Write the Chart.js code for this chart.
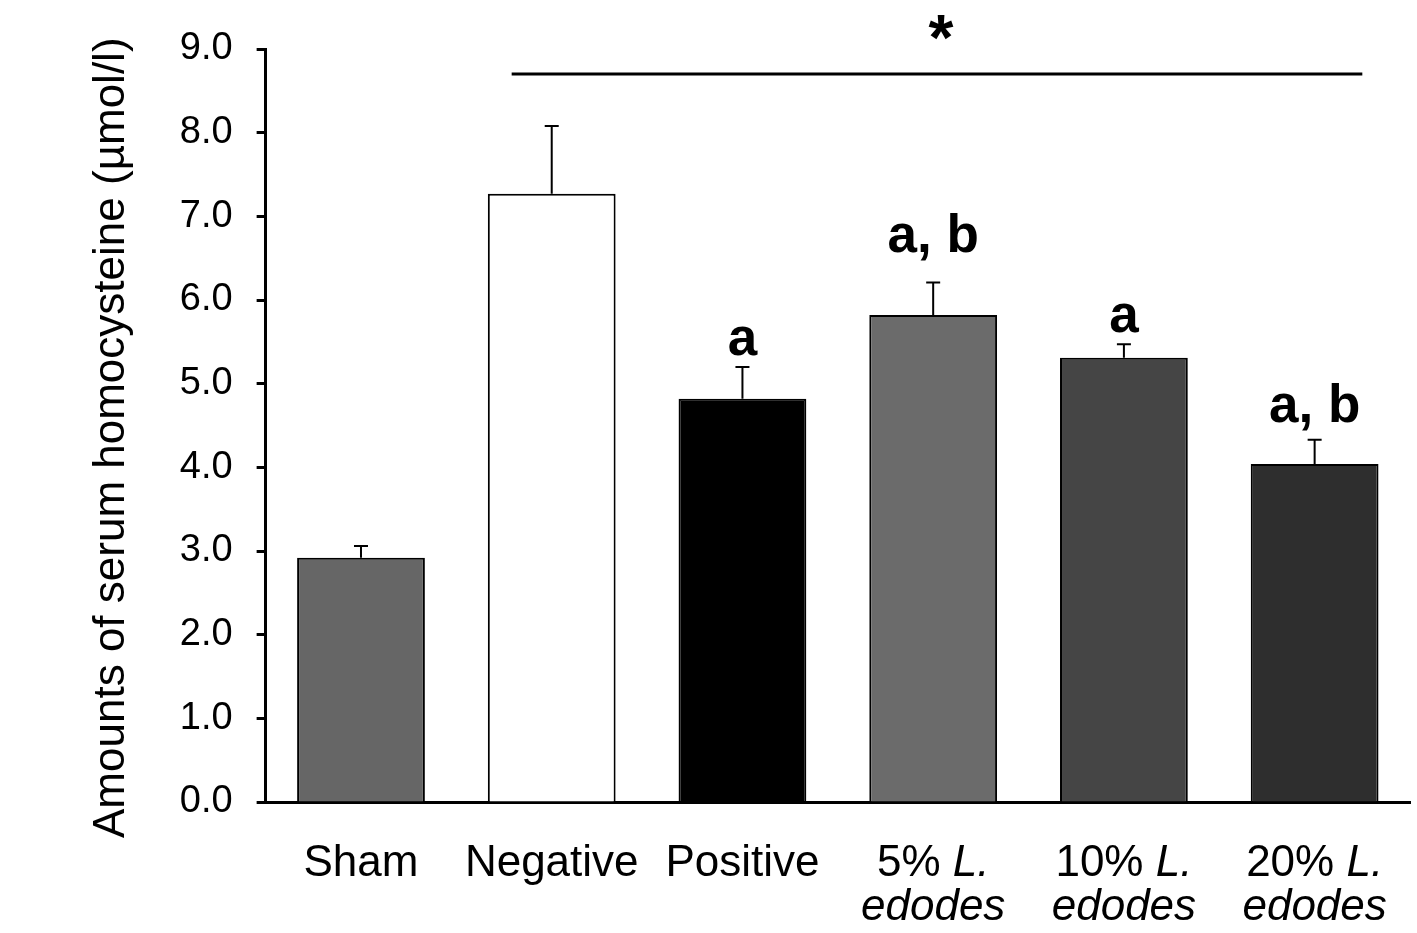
<!DOCTYPE html>
<html>
<head>
<meta charset="utf-8">
<script src="https://cdn.jsdelivr.net/npm/chart.js@4/dist/chart.umd.min.js"></script>
<style>
  html, body { margin: 0; padding: 0; background: #fff; }
  #wrap { width: 1417px; height: 933px; position: relative; }
</style>
</head>
<body>
<div id="wrap"><canvas id="chart"></canvas></div>
<script>
const categories = ["Sham", "Negative", "Positive", "5% L. edodes", "10% L. edodes", "20% L. edodes"];
// *...* marks italic runs in the axis labels
const labelLines = [["Sham"], ["Negative"], ["Positive"], ["5% *L.*", "*edodes*"], ["10% *L.*", "*edodes*"], ["20% *L.*", "*edodes*"]];
const means = [2.92, 7.27, 4.82, 5.82, 5.31, 4.04];
const errors = [0.14, 0.81, 0.38, 0.39, 0.16, 0.29];
const letters = ["", "", "a", "a, b", "a", "a, b"];
// baseline of each letter group, in data units
const letterY = [0, 0, 5.34, 6.57, 5.62, 4.54];
const barColors = ["#666666", "#ffffff", "#000000", "#6b6b6b", "#454545", "#2e2e2e"];
const yTicks = [0, 1, 2, 3, 4, 5, 6, 7, 8, 9];
// significance bar: from/to in category index units, y in data units
const sigBar = { from: 0.79, to: 5.25, y: 8.7, mark: "*", markY: 9.22 };

const FONT = "'Liberation Sans', Arial, sans-serif";

function drawRuns(ctx, text, cx, cy, size) {
  const parts = text.split("*").map((t, i) => ({ t: t, it: i % 2 == 1 })).filter(p => p.t.length);
  let total = 0;
  parts.forEach(p => {
    ctx.font = (p.it ? "italic " : "") + size + "px " + FONT;
    p.w = ctx.measureText(p.t).width;
    total += p.w;
  });
  let x = cx - total / 2;
  parts.forEach(p => {
    ctx.font = (p.it ? "italic " : "") + size + "px " + FONT;
    ctx.fillText(p.t, x, cy);
    x += p.w;
  });
}

const extras = {
  id: "extras",
  afterDatasetsDraw(chart) {
    const ctx = chart.ctx;
    const x = chart.scales.x;
    const y = chart.scales.y;
    ctx.save();
    ctx.strokeStyle = "#000";
    ctx.fillStyle = "#000";

    // error bars (upper only)
    ctx.lineWidth = 2;
    means.forEach((m, i) => {
      const cx = x.getPixelForValue(i);
      const y0 = y.getPixelForValue(m);
      const y1 = y.getPixelForValue(m + errors[i]);
      ctx.beginPath();
      ctx.moveTo(cx, y0);
      ctx.lineTo(cx, y1);
      ctx.moveTo(cx - 7, y1);
      ctx.lineTo(cx + 7, y1);
      ctx.stroke();
    });

    // significance letters
    ctx.textAlign = "center";
    ctx.textBaseline = "alphabetic";
    ctx.font = "bold 53px " + FONT;
    letters.forEach((l, i) => {
      if (!l) return;
      ctx.fillText(l, x.getPixelForValue(i), y.getPixelForValue(letterY[i]));
    });

    // overall significance bar
    ctx.lineWidth = 3;
    const sy = y.getPixelForValue(sigBar.y);
    ctx.beginPath();
    ctx.moveTo(x.getPixelForValue(sigBar.from), sy);
    ctx.lineTo(x.getPixelForValue(sigBar.to), sy);
    ctx.stroke();
    ctx.textBaseline = "middle";
    ctx.font = "bold 64px " + FONT;
    ctx.fillText(sigBar.mark, x.getPixelForValue((sigBar.from + sigBar.to) / 2) + 4, y.getPixelForValue(sigBar.markY) + 12);

    // category labels with italic species name
    ctx.textAlign = "left";
    labelLines.forEach((lines, i) => {
      const cx = x.getPixelForValue(i);
      lines.forEach((ln, k) => {
        drawRuns(ctx, ln, cx, y.bottom + 62 + k * 44, 44);
      });
    });
    ctx.restore();
  }
};

new Chart(document.getElementById("chart"), {
  type: "bar",
  data: {
    labels: categories,
    datasets: [{
      data: means,
      backgroundColor: barColors,
      borderColor: "#000",
      borderWidth: 2,
      categoryPercentage: 1,
      barPercentage: 0.67,
    }],
  },
  options: {
    responsive: true,
    maintainAspectRatio: false,
    animation: false,
    layout: { padding: { left: 85, right: 7, top: 49, bottom: 123 } },
    plugins: { legend: { display: false }, tooltip: { enabled: false } },
    scales: {
      x: {
        z: 1,
        grid: { display: false },
        border: { display: true, color: "#000", width: 3 },
        ticks: { display: false },
      },
      y: {
        z: 1,
        min: 0,
        max: 9,
        afterBuildTicks: (scale) => { scale.ticks = yTicks.map(v => ({ value: v })); },
        grid: { display: true, drawOnChartArea: false, drawTicks: true, tickLength: 9, tickColor: "#000", tickWidth: 3 },
        border: { display: true, color: "#000", width: 3 },
        ticks: {
          padding: 24,
          color: "#000",
          font: { size: 38, family: FONT },
          callback: (v) => Number(v).toFixed(1),
        },
        title: {
          display: true,
          text: "Amounts of serum homocysteine (µmol/l)\u00a0\u00a0",
          color: "#000",
          font: { size: 44, family: FONT },
          padding: { top: 0, bottom: 18 },
        },
      },
    },
  },
  plugins: [extras],
});
</script>
</body>
</html>
